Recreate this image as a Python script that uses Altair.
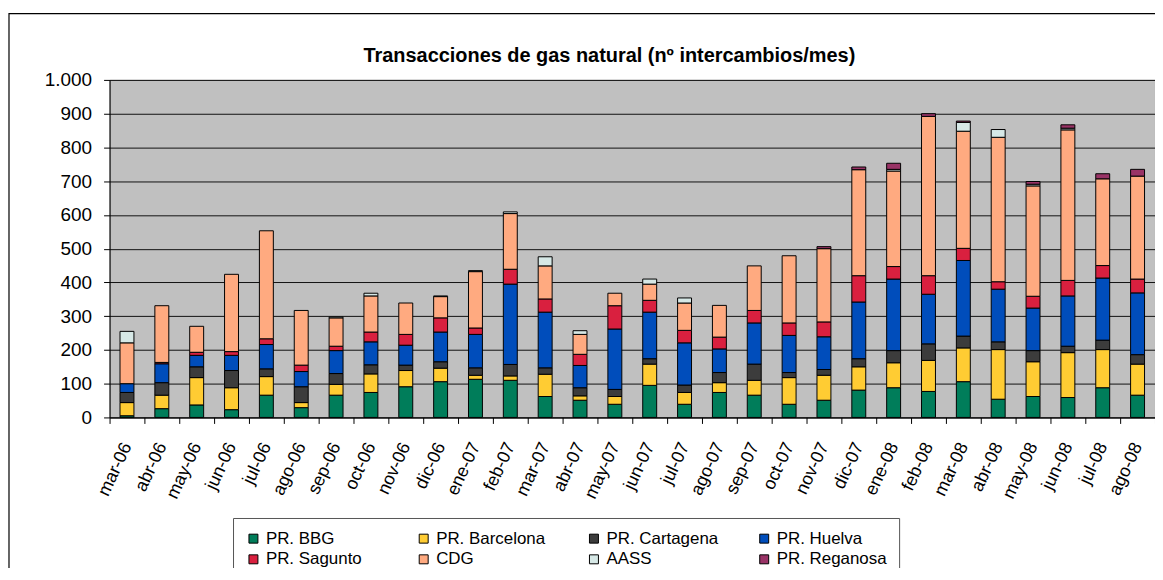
import altair as alt
import pandas as pd

months = ["mar-06", "abr-06", "may-06", "jun-06", "jul-06", "ago-06", "sep-06", "oct-06",
          "nov-06", "dic-06", "ene-07", "feb-07", "mar-07", "abr-07", "may-07", "jun-07",
          "jul-07", "ago-07", "sep-07", "oct-07", "nov-07", "dic-07", "ene-08", "feb-08",
          "mar-08", "abr-08", "may-08", "jun-08", "jul-08", "ago-08"]

series = ["PR. BBG", "PR. Barcelona", "PR. Cartagena", "PR. Huelva",
          "PR. Sagunto", "CDG", "AASS", "PR. Reganosa"]
colors = ["#007D5A", "#FFCC33", "#3C3C3C", "#004DBB",
          "#D9203F", "#FFAA80", "#D6E8E6", "#993366"]

bbg = [5, 26, 37, 23, 66, 29, 66, 74, 91, 106, 113, 110, 62, 51, 39, 95, 39, 74, 66, 39,
       51, 81, 88, 77, 106, 54, 62, 59, 88, 66]
barcelona = [39, 40, 81, 65, 55, 15, 32, 55, 48, 40, 12, 13, 66, 13, 23, 63, 35, 29, 44, 79,
             74, 69, 74, 92, 100, 147, 103, 133, 113, 92]
cartagena = [30, 37, 32, 51, 23, 47, 32, 27, 16, 19, 22, 34, 19, 24, 21, 16, 22, 30, 48, 15,
             17, 24, 36, 49, 35, 23, 33, 19, 28, 28]
huelva = [26, 56, 34, 45, 72, 45, 68, 68, 59, 88, 99, 238, 165, 66, 179, 138, 125, 70, 122, 110,
          97, 168, 212, 147, 224, 156, 126, 149, 184, 183]
sagunto = [0, 4, 9, 11, 17, 19, 13, 29, 32, 42, 19, 44, 39, 33, 69, 35, 37, 35, 37, 37,
           44, 78, 37, 55, 36, 22, 35, 46, 37, 41]
cdg = [121, 168, 77, 229, 320, 162, 84, 107, 93, 63, 167, 165, 98, 59, 37, 48, 81, 94, 132, 199,
       217, 314, 283, 472, 347, 428, 327, 446, 257, 305]
aass = [34, 0, 0, 0, 0, 0, 3, 8, 0, 2, 3, 5, 27, 11, 0, 15, 15, 0, 0, 0,
        0, 0, 5, 0, 26, 23, 5, 5, 0, 0]
reganosa = [0, 0, 0, 0, 0, 0, 0, 0, 0, 0, 0, 0, 0, 0, 0, 0, 0, 0, 0, 0,
            6, 8, 18, 8, 4, 0, 8, 10, 15, 20]

y_ticks = [0, 100, 200, 300, 400, 500, 600, 700, 800, 900, 1000]

values = [bbg, barcelona, cartagena, huelva, sagunto, cdg, aass, reganosa]
rows = []
for si, (name, vals) in enumerate(zip(series, values)):
    for m, v in zip(months, vals):
        if v > 0:
            rows.append({"mes": m, "serie": name, "orden": si, "valor": v})
df = pd.DataFrame(rows)

FONT = "Liberation Sans"

bars = alt.Chart(df).mark_bar(size=14, stroke="black", strokeWidth=1).encode(
    x=alt.X("mes:N", sort=months,
            scale=alt.Scale(paddingInner=0, paddingOuter=0),
            axis=alt.Axis(title=None, labelAngle=-65, labelAlign="right",
                          labelBaseline="middle", labelFontSize=18, labelPadding=20,
                          tickBand="extent", tickSize=6, tickColor="black",
                          domainColor="black", labelColor="black", grid=False,
                          labelFont=FONT)),
    y=alt.Y("valor:Q", stack="zero",
            scale=alt.Scale(domain=[0, 1000], nice=False),
            axis=alt.Axis(title=None, values=y_ticks,
                          labelExpr="replace(format(datum.value, ','), ',', '.')",
                          labelFontSize=19, labelFont=FONT, labelColor="black",
                          tickSize=6, tickColor="black", domainColor="black",
                          labelPadding=12, grid=True, gridColor="#111111",
                          gridWidth=1)),
    color=alt.Color("serie:N", scale=alt.Scale(domain=series, range=colors),
                    legend=alt.Legend(title=None, orient="none", legendX=124, legendY=440,
                                      direction="horizontal", columns=4,
                                      symbolType="square", symbolSize=81,
                                      symbolStrokeColor="black", symbolStrokeWidth=1,
                                      labelFontSize=17, labelFont=FONT, labelColor="black",
                                      columnPadding=37, rowPadding=3, padding=12,
                                      strokeColor="#555555", fillColor="white",
                                      gridAlign="all", symbolOpacity=1)),
    order=alt.Order("orden:Q", sort="ascending"),
)

frame = alt.Chart(pd.DataFrame({"a": [0]})).mark_rect(
    fill=None, stroke="black", strokeWidth=1.2
).encode(
    x=alt.value(-101), x2=alt.value(1300),
    y=alt.value(-66.5), y2=alt.value(700),
)

chart = alt.layer(frame, bars).properties(
    width=1050, height=339,
    title=alt.TitleParams("Transacciones de gas natural (nº intercambios/mes)",
                          fontSize=20, fontWeight="bold", font=FONT, color="black",
                          anchor="middle", dx=-23, offset=-53),
    autosize=alt.AutoSizeParams(type="none"),
    padding={"left": 102, "top": 71, "right": 0, "bottom": 150},
).configure_view(
    fill="#C0C0C0", stroke="#808080", strokeWidth=1
)

chart.save("out.html", embed_options={"renderer": "svg", "actions": False})
